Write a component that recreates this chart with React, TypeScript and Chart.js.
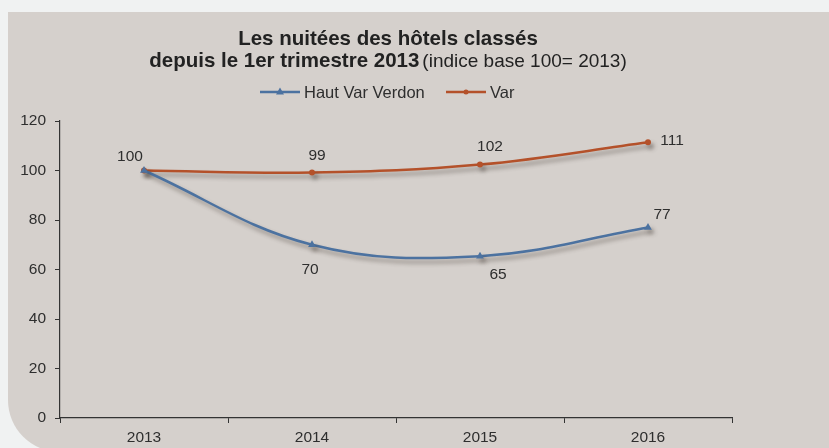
import React, { useEffect, useRef } from "react";
import { Chart, registerables } from "chart.js";

Chart.register(...registerables);

const YEARS = ["2013", "2014", "2015", "2016"];
const HAUT_VAR_VERDON = [100, 70, 65.4, 77];
const VAR = [100, 99.2, 102.4, 111.4];
const SERIES_NAMES = ["Haut Var Verdon", "Var"];
const Y_MIN = 0;
const Y_MAX = 120;
const Y_STEP = 20;

const TITLE_LINE1 = "Les nuitées des hôtels classés";
const TITLE_LINE2_BOLD = "depuis le 1er trimestre 2013";
const TITLE_LINE2_REGULAR = "(indice base 100= 2013)";

const BLUE = "#4c72a0";
const RUST = "#b4512a";
const TEXT = "#2e2e2e";
const FONT = "Arial, 'Liberation Sans', sans-serif";

// label offsets (dx, dy) relative to each point; null = hidden
const LABEL_OFFSETS: (number[] | null)[][] = [
  [null, [-2, 25], [18, 19], [14, -13]],
  [[-14, -14], [5, -17], [10, -18], [24, -2]],
];

const titlePlugin = {
  id: "customTitle",
  afterDraw(chart: any) {
    const ctx = chart.ctx;
    ctx.save();
    ctx.fillStyle = "#222";
    ctx.textBaseline = "alphabetic";
    const cx = 388;
    ctx.font = `bold 20.5px ${FONT}`;
    ctx.textAlign = "center";
    ctx.fillText(TITLE_LINE1, cx, 45);
    ctx.textAlign = "left";
    const wb = ctx.measureText(TITLE_LINE2_BOLD).width;
    ctx.font = `19px ${FONT}`;
    const wr = ctx.measureText(TITLE_LINE2_REGULAR).width;
    const gap = 3;
    const x0 = cx - (wb + gap + wr) / 2;
    ctx.font = `bold 20.5px ${FONT}`;
    ctx.fillText(TITLE_LINE2_BOLD, x0, 67);
    ctx.font = `19px ${FONT}`;
    ctx.fillText(TITLE_LINE2_REGULAR, x0 + wb + gap, 67);
    ctx.restore();
  },
};

const legendPlugin = {
  id: "customLegend",
  afterDraw(chart: any) {
    const ctx = chart.ctx;
    ctx.save();
    const y = 92;
    const items = [
      { x: 260, color: BLUE, marker: "triangle", label: SERIES_NAMES[0] },
      { x: 446, color: RUST, marker: "circle", label: SERIES_NAMES[1] },
    ];
    for (const it of items) {
      ctx.strokeStyle = it.color;
      ctx.lineWidth = 2.5;
      ctx.beginPath();
      ctx.moveTo(it.x, y);
      ctx.lineTo(it.x + 40, y);
      ctx.stroke();
      ctx.fillStyle = it.color;
      const mx = it.x + 20;
      ctx.beginPath();
      if (it.marker === "triangle") {
        ctx.moveTo(mx, y - 4.5);
        ctx.lineTo(mx + 4, y + 2.5);
        ctx.lineTo(mx - 4, y + 2.5);
        ctx.closePath();
      } else {
        ctx.arc(mx, y, 2.5, 0, Math.PI * 2);
      }
      ctx.fill();
      ctx.fillStyle = TEXT;
      ctx.font = `16.5px ${FONT}`;
      ctx.textAlign = "left";
      ctx.textBaseline = "alphabetic";
      ctx.fillText(it.label, it.x + 44, 97.5);
    }
    ctx.restore();
  },
};

const shadowPlugin = {
  id: "lineShadow",
  beforeDatasetDraw(chart: any) {
    const ctx = chart.ctx;
    ctx.save();
    ctx.shadowColor = "rgba(60,50,45,0.45)";
    ctx.shadowBlur = 4;
    ctx.shadowOffsetX = 3;
    ctx.shadowOffsetY = 4;
  },
  afterDatasetDraw(chart: any) {
    chart.ctx.restore();
  },
};

const labelPlugin = {
  id: "pointLabels",
  afterDatasetsDraw(chart: any) {
    const ctx = chart.ctx;
    ctx.save();
    ctx.font = `15.5px ${FONT}`;
    ctx.fillStyle = TEXT;
    ctx.textAlign = "center";
    ctx.textBaseline = "middle";
    chart.data.datasets.forEach((ds: any, di: number) => {
      const meta = chart.getDatasetMeta(di);
      meta.data.forEach((pt: any, i: number) => {
        const off = LABEL_OFFSETS[di][i];
        if (!off) return;
        ctx.fillText(String(Math.round(ds.data[i])), pt.x + off[0], pt.y + off[1]);
      });
    });
    ctx.restore();
  },
};

export default function App() {
  const canvasRef = useRef<HTMLCanvasElement | null>(null);

  useEffect(() => {
    const canvas = canvasRef.current;
    if (!canvas) return;
    const chart = new Chart(canvas, {
      type: "line",
      data: {
        labels: YEARS,
        datasets: [
          {
            label: SERIES_NAMES[0],
            data: HAUT_VAR_VERDON,
            borderColor: BLUE,
            backgroundColor: BLUE,
            borderWidth: 2.5,
            pointStyle: "triangle",
            pointRadius: 4.5,
            pointBorderWidth: 0,
            tension: 0.38,
            fill: false,
          },
          {
            label: SERIES_NAMES[1],
            data: VAR,
            borderColor: RUST,
            backgroundColor: RUST,
            borderWidth: 2.5,
            pointStyle: "circle",
            pointRadius: 3,
            pointBorderWidth: 0,
            tension: 0.38,
            fill: false,
          },
        ],
      },
      options: {
        responsive: false,
        animation: false,
        layout: { padding: { top: 121, right: 97, left: 0, bottom: 0 } },
        plugins: {
          legend: { display: false },
          title: { display: false },
          tooltip: { enabled: false },
        },
        scales: {
          x: {
            type: "category",
            offset: true,
            afterFit: (s: any) => {
              s.height = 30;
            },
            grid: {
              display: true,
              drawOnChartArea: false,
              drawTicks: true,
              tickLength: 5,
              color: "#333",
              offset: true,
              lineWidth: 1,
            },
            border: { display: true, color: "#333", width: 1.2 },
            ticks: {
              color: TEXT,
              font: { family: FONT, size: 15.5 },
              padding: 5,
              maxRotation: 0,
            },
          },
          y: {
            min: Y_MIN,
            max: Y_MAX,
            afterFit: (s: any) => {
              s.width = 60;
            },
            grid: {
              display: true,
              drawOnChartArea: false,
              drawTicks: true,
              tickLength: 5,
              color: "#333",
              lineWidth: 1,
            },
            border: { display: true, color: "#333", width: 1.2 },
            ticks: {
              stepSize: Y_STEP,
              color: TEXT,
              font: { family: FONT, size: 15.5 },
              padding: 9,
            },
          },
        },
      },
      plugins: [shadowPlugin, labelPlugin, titlePlugin, legendPlugin],
    });
    return () => chart.destroy();
  }, []);

  return (
    <div
      style={{
        position: "fixed",
        left: 0,
        top: 0,
        width: 829,
        height: 448,
        overflow: "hidden",
        background: "#f0f2f2",
      }}
    >
      <div
        style={{
          position: "absolute",
          left: 8,
          top: 12,
          width: 900,
          height: 440,
          background: "#d5d0cc",
          borderBottomLeftRadius: 52,
        }}
      />
      <canvas
        ref={canvasRef}
        width={829}
        height={448}
        style={{ position: "absolute", left: 0, top: 0, width: 829, height: 448 }}
      />
    </div>
  );
}
